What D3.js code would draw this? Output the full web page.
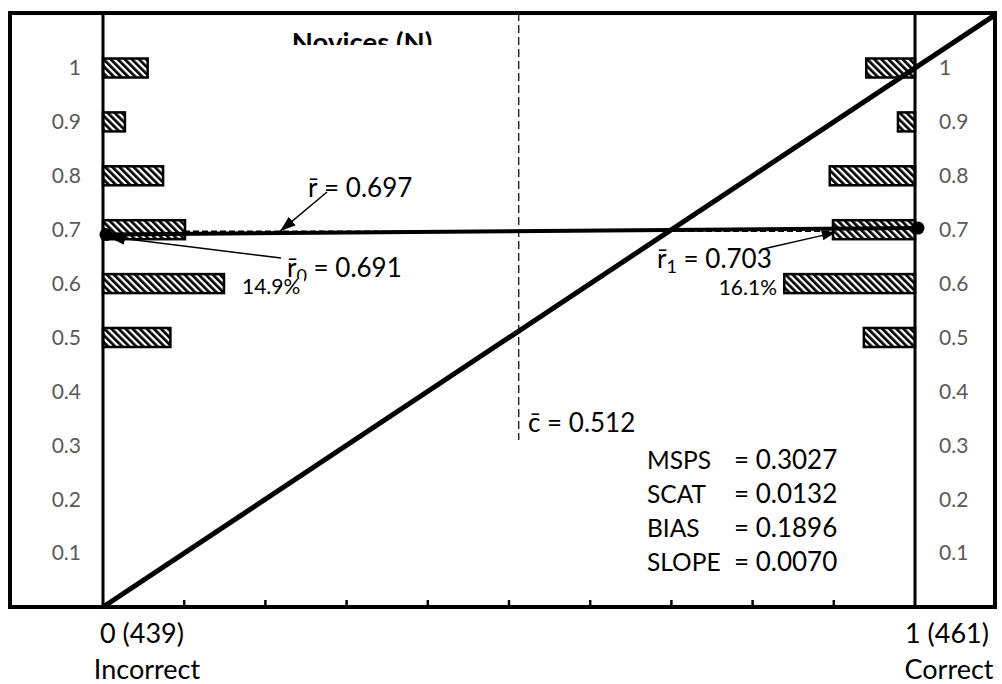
<!DOCTYPE html>
<html>
<head>
<meta charset="utf-8">
<script src="https://cdn.jsdelivr.net/npm/d3@7"></script>
<style>
  html, body { margin: 0; padding: 0; background: #fff; }
  svg { display: block; font-family: Lato, "Open Sans", sans-serif; }
</style>
</head>
<body>
<svg id="chart" width="1002" height="684"></svg>
<script>
// Forecast probability levels and the share (%) of all 900 forecasts at each level
const levels = [0.5, 0.6, 0.7, 0.8, 0.9, 1.0];
const pctIncorrect = [8.3, 14.9, 10.1, 7.4, 2.7, 5.5];
const pctCorrect = [6.3, 16.1, 10.1, 10.5, 2.1, 6.0];

// Outcome axis
const outcomeValues = [0, 1];
const outcomeCounts = [439, 461];
const outcomeNames = ["Incorrect", "Correct"];
const xTickValues = [0.1, 0.2, 0.3, 0.4, 0.5, 0.6, 0.7, 0.8, 0.9];
const yTickValues = [0.1, 0.2, 0.3, 0.4, 0.5, 0.6, 0.7, 0.8, 0.9, 1];

// Summary statistics
const rBar = 0.697, rBar0 = 0.691, rBar1 = 0.703, cBar = 0.512;
const statNames = ["MSPS", "SCAT", "BIAS", "SLOPE"];
const statValues = ["0.3027", "0.0132", "0.1896", "0.0070"];
const title = "Novices (N)";

const svg = d3.select("#chart");
const x = d3.scaleLinear().domain([0, 1]).range([103, 915]);
const y = d3.scaleLinear().domain([0, 1]).range([607, 68]);

// outer frame in data units
const xMin = -0.1145, xMax = 1.0985, yMax = 1.102;
const fx0 = x(xMin), fx1 = x(xMax), fy0 = y(yMax), fy1 = y(0);

const defs = svg.append("defs");
const hatch = defs.append("pattern")
  .attr("id", "hatch").attr("patternUnits", "userSpaceOnUse")
  .attr("width", 5).attr("height", 5)
  .attr("patternTransform", "rotate(-45)");
hatch.append("rect").attr("width", 5).attr("height", 5).attr("fill", "#fff");
hatch.append("rect").attr("width", 2.7).attr("height", 5).attr("fill", "#000");

defs.append("clipPath").attr("id", "frameClip")
  .append("rect").attr("x", fx0).attr("y", fy0).attr("width", fx1 - fx0).attr("height", fy1 - fy0);
defs.append("clipPath").attr("id", "titleClip")
  .append("rect").attr("x", fx0).attr("y", fy0).attr("width", fx1 - fx0).attr("height", 32);

function marker(id, len, wid) {
  defs.append("marker").attr("id", id)
    .attr("viewBox", `0 0 ${len} ${wid}`).attr("refX", len).attr("refY", wid / 2)
    .attr("markerUnits", "userSpaceOnUse")
    .attr("markerWidth", len).attr("markerHeight", wid).attr("orient", "auto")
    .append("path").attr("d", `M0,0L${len},${wid / 2}L0,${wid}Z`).attr("fill", "#000");
}
marker("arrowA", 16, 11);
marker("arrowB", 18, 12);
marker("arrowC", 14, 10);

const plot = svg.append("g").attr("clip-path", "url(#frameClip)");

// mean confidence line (vertical, dashed)
plot.append("line")
  .attr("x1", x(cBar)).attr("x2", x(cBar))
  .attr("y1", fy0).attr("y2", y(0.31))
  .attr("stroke", "#000").attr("stroke-width", 1.2).attr("stroke-dasharray", "8,4");

// overall mean forecast (horizontal, dashed)
plot.append("line")
  .attr("x1", x(0)).attr("x2", x(1))
  .attr("y1", y(rBar)).attr("y2", y(rBar))
  .attr("stroke", "#000").attr("stroke-width", 1.5).attr("stroke-dasharray", "6,3");

// distribution bars
const barH = 19;
const toLen = p => x(p / 100) - x(0);
plot.selectAll("rect.inc").data(levels).join("rect").attr("class", "inc")
  .attr("x", x(0)).attr("y", (d) => y(d) - barH / 2)
  .attr("width", (d, i) => toLen(pctIncorrect[i])).attr("height", barH)
  .attr("fill", "url(#hatch)").attr("stroke", "#000").attr("stroke-width", 2.5);
plot.selectAll("rect.cor").data(levels).join("rect").attr("class", "cor")
  .attr("x", (d, i) => x(1) - toLen(pctCorrect[i])).attr("y", (d) => y(d) - barH / 2)
  .attr("width", (d, i) => toLen(pctCorrect[i])).attr("height", barH)
  .attr("fill", "url(#hatch)").attr("stroke", "#000").attr("stroke-width", 2.5);

// perfect calibration diagonal
plot.append("line")
  .attr("x1", x(0)).attr("y1", y(0)).attr("x2", x(1.12)).attr("y2", y(1.12))
  .attr("stroke", "#000").attr("stroke-width", 5);

// regression line between conditional means
plot.append("line")
  .attr("x1", x(0)).attr("y1", y(rBar0)).attr("x2", x(1)).attr("y2", y(rBar1))
  .attr("stroke", "#000").attr("stroke-width", 4);
plot.selectAll("circle.mean").data([[0, rBar0], [1, rBar1]]).join("circle")
  .attr("class", "mean")
  .attr("cx", d => x(d[0]) + 3).attr("cy", d => y(d[1]))
  .attr("r", 6.5).attr("fill", "#000");

// inner axes at outcome 0 and 1
svg.selectAll("line.outcomeAxis").data(outcomeValues).join("line")
  .attr("class", "outcomeAxis")
  .attr("x1", d => x(d)).attr("x2", d => x(d)).attr("y1", fy0).attr("y2", fy1)
  .attr("stroke", "#000").attr("stroke-width", 3);

// bottom ticks pointing inward
svg.selectAll("line.xt").data(xTickValues).join("line").attr("class", "xt")
  .attr("x1", d => x(d)).attr("x2", d => x(d)).attr("y1", fy1).attr("y2", fy1 - 7)
  .attr("stroke", "#000").attr("stroke-width", 2.5);

// outer frame
svg.append("rect")
  .attr("x", fx0).attr("y", fy0).attr("width", fx1 - fx0).attr("height", fy1 - fy0)
  .attr("fill", "none").attr("stroke", "#000").attr("stroke-width", 4);

// y tick labels on both sides
const fmt = d => (d === 1 ? "1" : d3.format(".1f")(d));
svg.selectAll("text.yl").data(yTickValues).join("text").attr("class", "yl")
  .attr("x", x(0) - 22).attr("y", d => y(d)).attr("dy", "0.35em")
  .attr("text-anchor", "end").attr("font-size", 21).attr("fill", "#595959").text(fmt);
svg.selectAll("text.yr").data(yTickValues).join("text").attr("class", "yr")
  .attr("x", x(1) + 24).attr("y", d => y(d)).attr("dy", "0.35em")
  .attr("text-anchor", "start").attr("font-size", 21).attr("fill", "#595959").text(fmt);

// outcome labels under the axis
svg.selectAll("text.on").data(outcomeValues).join("text").attr("class", "on")
  .attr("x", (d) => x(d) + (d === 0 ? 39 : 32)).attr("y", 643)
  .attr("text-anchor", "middle").attr("font-size", 27).attr("fill", "#000")
  .text((d, i) => `${d} (${outcomeCounts[i]})`);
svg.selectAll("text.oname").data(outcomeValues).join("text").attr("class", "oname")
  .attr("x", (d) => x(d) + (d === 0 ? 44 : 34)).attr("y", 679)
  .attr("text-anchor", "middle").attr("font-size", 27).attr("fill", "#000")
  .text((d, i) => outcomeNames[i]);

// title
svg.append("text").attr("clip-path", "url(#titleClip)")
  .attr("x", 362).attr("y", 52).attr("text-anchor", "middle")
  .attr("font-size", 27.5).attr("font-weight", "bold").text(title);

// annotation arrows
const ann = svg.append("g").attr("stroke", "#000").attr("fill", "none");
ann.append("line").attr("x1", 327).attr("y1", 192).attr("x2", x(0.218)).attr("y2", y(rBar))
  .attr("stroke-width", 1.5).attr("marker-end", "url(#arrowA)");
ann.append("line").attr("x1", 281).attr("y1", 258).attr("x2", x(0) + 4).attr("y2", y(rBar0) + 2)
  .attr("stroke-width", 1.5).attr("marker-end", "url(#arrowB)");
ann.append("line").attr("x1", 763).attr("y1", 249).attr("x2", x(0.9) + 2).attr("y2", y(rBar) + 1)
  .attr("stroke-width", 1.3).attr("marker-end", "url(#arrowC)");

const labels = svg.append("g").attr("font-size", 26).attr("fill", "#000");
function meanLabel(px, py, sub, val) {
  const t = labels.append("text").attr("x", px).attr("y", py);
  t.append("tspan").text("r\u0304");
  if (sub !== null) {
    t.append("tspan").attr("font-size", 18).attr("dy", 5).text(sub);
    t.append("tspan").attr("dy", -5).text(" = " + val);
  } else {
    t.append("tspan").text(" = " + val);
  }
}
meanLabel(308, 197, null, d3.format(".3f")(rBar));
meanLabel(287, 277, "0", d3.format(".3f")(rBar0));
meanLabel(657, 268, "1", d3.format(".3f")(rBar1));

// percentage labels for the modal bars
const iMaxInc = d3.maxIndex(pctIncorrect), iMaxCor = d3.maxIndex(pctCorrect);
svg.append("rect").attr("x", 240).attr("y", 279).attr("width", 64).attr("height", 20).attr("fill", "#fff");
svg.append("text").attr("x", 242).attr("y", 294).attr("font-size", 21)
  .text(pctIncorrect[iMaxInc].toFixed(1) + "%");
svg.append("text").attr("x", 777).attr("y", 295).attr("font-size", 21).attr("text-anchor", "end")
  .text(pctCorrect[iMaxCor].toFixed(1) + "%");

// mean confidence label
svg.append("text").attr("x", 528).attr("y", 432).attr("font-size", 26)
  .text("c\u0304 = " + d3.format(".3f")(cBar));

// statistics block
const stats = svg.append("g");
stats.selectAll("text.sn").data(statNames).join("text").attr("class", "sn")
  .attr("x", 647).attr("y", (d, i) => 469 + i * 34).attr("font-size", 24.5).text(d => d);
stats.selectAll("text.sv").data(statValues).join("text").attr("class", "sv")
  .attr("x", 734).attr("y", (d, i) => 469 + i * 34).attr("font-size", 26).text(d => "= " + d);
</script>
</body>
</html>
